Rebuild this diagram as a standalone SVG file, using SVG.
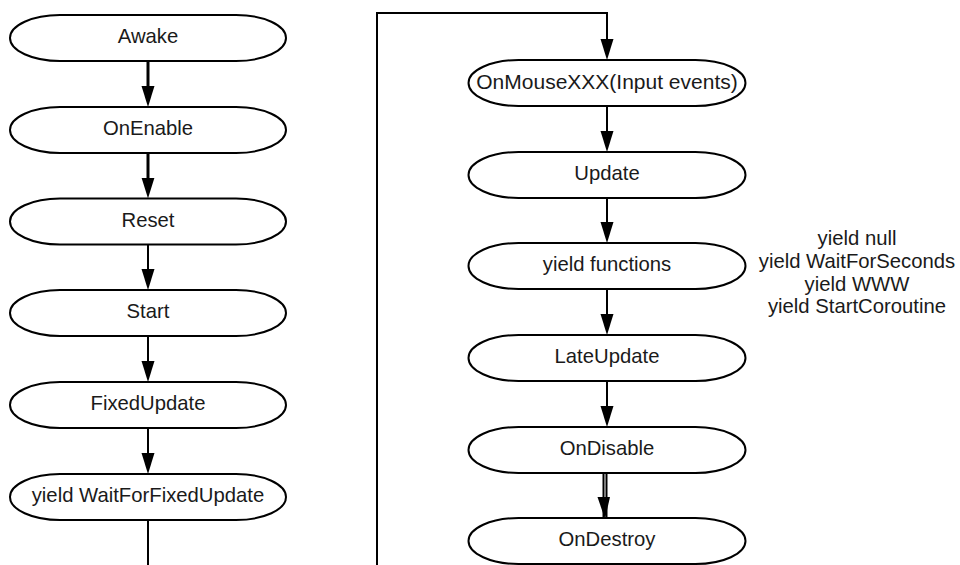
<svg xmlns="http://www.w3.org/2000/svg" width="960" height="565" viewBox="0 0 960 565">
  <style>
    .node path { fill: #ffffff; stroke: #000000; stroke-width: 2; }
    .node text, .note text { font-family: "Liberation Sans", Arial, sans-serif; font-size: 20.3px; fill: #1a1a1a; text-anchor: middle; }
    .node text.wide { font-size: 21px; }
    .edge { fill: none; stroke: #000000; stroke-width: 2; }
    .edge.bold { stroke-width: 3; }
  </style>
  <defs>
    <marker id="arrow" markerUnits="userSpaceOnUse" markerWidth="22" markerHeight="14" viewBox="0 0 22 14" refX="11" refY="6.5" orient="auto">
      <path d="M0,0 L21,6.5 L0,13 Z" fill="#000000"/>
    </marker>
  </defs>

  <rect width="960" height="565" fill="#ffffff"/>

  <!-- connectors -->
  <g id="connectors">
    <!-- left column -->
    <path class="edge bold" d="M148,61 V97" marker-end="url(#arrow)"/>
    <path class="edge bold" d="M148,153 V188.5" marker-end="url(#arrow)"/>
    <path class="edge" d="M148,244.5 V280" marker-end="url(#arrow)"/>
    <path class="edge" d="M148,336 V372" marker-end="url(#arrow)"/>
    <path class="edge" d="M148,428 V464" marker-end="url(#arrow)"/>
    <path class="edge" d="M148,520 V565"/>
    <!-- loop back into the right column -->
    <path class="edge" d="M377,565 V13 H607 V50" marker-end="url(#arrow)"/>
    <!-- right column -->
    <path class="edge" d="M607,106 V142" marker-end="url(#arrow)"/>
    <path class="edge" d="M607,198 V233" marker-end="url(#arrow)"/>
    <path class="edge" d="M607,289 V325" marker-end="url(#arrow)"/>
    <path class="edge" d="M607,381 V417" marker-end="url(#arrow)"/>
    <!-- doubled stroke between OnDisable and OnDestroy -->
    <path d="M605,472 V518" fill="none" stroke="#000000" stroke-width="5"/>
    <path d="M605,473 V517" fill="none" stroke="#9a9a9a" stroke-width="1.6"/>
    <path d="M597.5,497 L610,497 L605,519 Z" fill="#000000"/>
  </g>

  <!-- left column nodes -->
  <g id="awake" class="node">
    <path d="M60,15 H236 A50,23 0 0 1 236,61 H60 A50,23 0 0 1 60,15 Z"/>
    <text x="148" y="43">Awake</text>
  </g>
  <g id="onenable" class="node">
    <path d="M60,107 H236 A50,23 0 0 1 236,153 H60 A50,23 0 0 1 60,107 Z"/>
    <text x="148" y="135">OnEnable</text>
  </g>
  <g id="reset" class="node">
    <path d="M60,198.5 H236 A50,23 0 0 1 236,244.5 H60 A50,23 0 0 1 60,198.5 Z"/>
    <text x="148" y="226.5">Reset</text>
  </g>
  <g id="start" class="node">
    <path d="M60,290 H236 A50,23 0 0 1 236,336 H60 A50,23 0 0 1 60,290 Z"/>
    <text x="148" y="318">Start</text>
  </g>
  <g id="fixedupdate" class="node">
    <path d="M60,382 H236 A50,23 0 0 1 236,428 H60 A50,23 0 0 1 60,382 Z"/>
    <text x="148" y="410">FixedUpdate</text>
  </g>
  <g id="waitforfixedupdate" class="node">
    <path d="M60,474 H236 A50,23 0 0 1 236,520 H60 A50,23 0 0 1 60,474 Z"/>
    <text x="148" y="502">yield WaitForFixedUpdate</text>
  </g>

  <!-- right column nodes -->
  <g id="onmouse" class="node">
    <path d="M518.5,60 H695.5 A50,23 0 0 1 695.5,106 H518.5 A50,23 0 0 1 518.5,60 Z"/>
    <text class="wide" x="607" y="88.5">OnMouseXXX(Input events)</text>
  </g>
  <g id="update" class="node">
    <path d="M518.5,152 H695.5 A50,23 0 0 1 695.5,198 H518.5 A50,23 0 0 1 518.5,152 Z"/>
    <text x="607" y="180">Update</text>
  </g>
  <g id="yieldfunctions" class="node">
    <path d="M518.5,243 H695.5 A50,23 0 0 1 695.5,289 H518.5 A50,23 0 0 1 518.5,243 Z"/>
    <text x="607" y="271">yield functions</text>
  </g>
  <g id="lateupdate" class="node">
    <path d="M518.5,335 H695.5 A50,23 0 0 1 695.5,381 H518.5 A50,23 0 0 1 518.5,335 Z"/>
    <text x="607" y="363">LateUpdate</text>
  </g>
  <g id="ondisable" class="node">
    <path d="M518.5,427 H695.5 A50,23 0 0 1 695.5,473 H518.5 A50,23 0 0 1 518.5,427 Z"/>
    <text x="607" y="455">OnDisable</text>
  </g>
  <g id="ondestroy" class="node">
    <path d="M518.5,518 H695.5 A50,23 0 0 1 695.5,564 H518.5 A50,23 0 0 1 518.5,518 Z"/>
    <text x="607" y="546">OnDestroy</text>
  </g>

  <!-- yield variants -->
  <g id="yield-variants" class="note">
    <text x="857" y="245">yield null</text>
    <text x="857" y="268">yield WaitForSeconds</text>
    <text x="857" y="291">yield WWW</text>
    <text x="857" y="313">yield StartCoroutine</text>
  </g>
</svg>
